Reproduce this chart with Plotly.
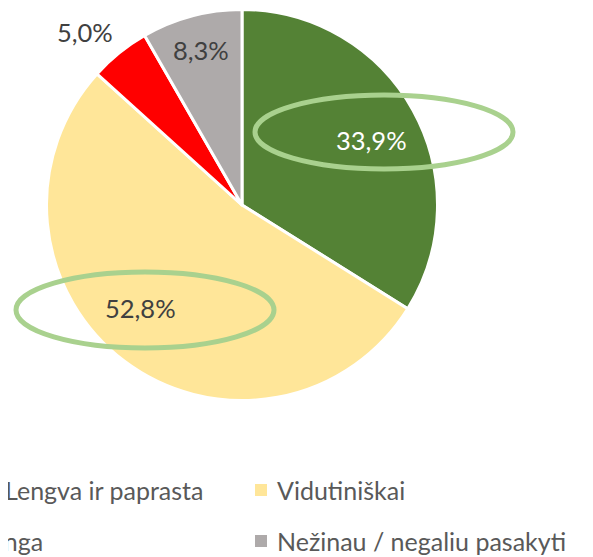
import plotly.graph_objects as go

categories = ['Lengva ir paprasta', 'Vidutiniškai', 'Sudėtinga', 'Nežinau / negaliu pasakyti']
values = [33.9, 52.8, 5.0, 8.3]
colors = ['#548235', '#FFE699', '#FF0000', '#AEAAAA']

# the page body has an 8px margin, so the figure is drawn 8px in from the window edge
OFF = 8
W, H = 593 - OFF, 557 - OFF
font_family = 'Lato'


def px(x):
    return (x - OFF) / W


def py(y):
    return 1 - (y - OFF) / H


# pie centre and radius (window pixels)
cx, cy, r = 242, 205, 195.5

fig = go.Figure(go.Pie(
    labels=categories,
    values=values,
    marker=dict(colors=colors, line=dict(color='white', width=3)),
    sort=False,
    direction='clockwise',
    rotation=0,
    textinfo='none',
    hoverinfo='label+percent',
    domain=dict(x=[px(cx - r), px(cx + r)], y=[py(cy + r), py(cy - r)]),
    showlegend=False,
))

# data labels (window-pixel positions)
label_pos = [(371, 140), (140, 308), (85, 32), (201, 50)]
label_col = ['white', '#404040', '#404040', '#404040']
for v, (x, y), c in zip(values, label_pos, label_col):
    fig.add_annotation(x=px(x), y=py(y), xref='paper', yref='paper',
                       text=f'{v:.1f}%'.replace('.', ','), showarrow=False,
                       font=dict(family=font_family, size=25.5, color=c),
                       xanchor='center', yanchor='middle')

# highlight ellipses
for x0, y0, x1, y1 in [(255, 95, 513, 169), (16, 272, 274, 348)]:
    fig.add_shape(type='circle', xref='paper', yref='paper',
                  x0=px(x0), x1=px(x1), y0=py(y1), y1=py(y0),
                  line=dict(color='#A9D18E', width=5), layer='above')

# legend, two columns (left column runs off the canvas)
legend_rows = [490, 541]
legend_size = 25
for i, name in enumerate(categories):
    row, col = divmod(i, 2)
    y = legend_rows[row]
    if col == 0:
        text_end = [206, 45][row]
        fig.add_annotation(x=px(text_end), y=py(y), xref='paper', yref='paper',
                           text=name, showarrow=False, xanchor='right', yanchor='middle',
                           font=dict(family=font_family, size=legend_size, color='#595959'))
    else:
        fig.add_shape(type='rect', xref='paper', yref='paper',
                      x0=px(255), x1=px(267), y0=py(y + 6), y1=py(y - 6),
                      fillcolor=colors[i], line=dict(width=0))
        fig.add_annotation(x=px(275), y=py(y), xref='paper', yref='paper',
                           text=name, showarrow=False, xanchor='left', yanchor='middle',
                           font=dict(family=font_family, size=legend_size, color='#595959'))

fig.update_layout(
    width=W, height=H,
    margin=dict(l=0, r=0, t=0, b=0),
    paper_bgcolor='white',
    plot_bgcolor='white',
)

fig.write_html("out.html")
